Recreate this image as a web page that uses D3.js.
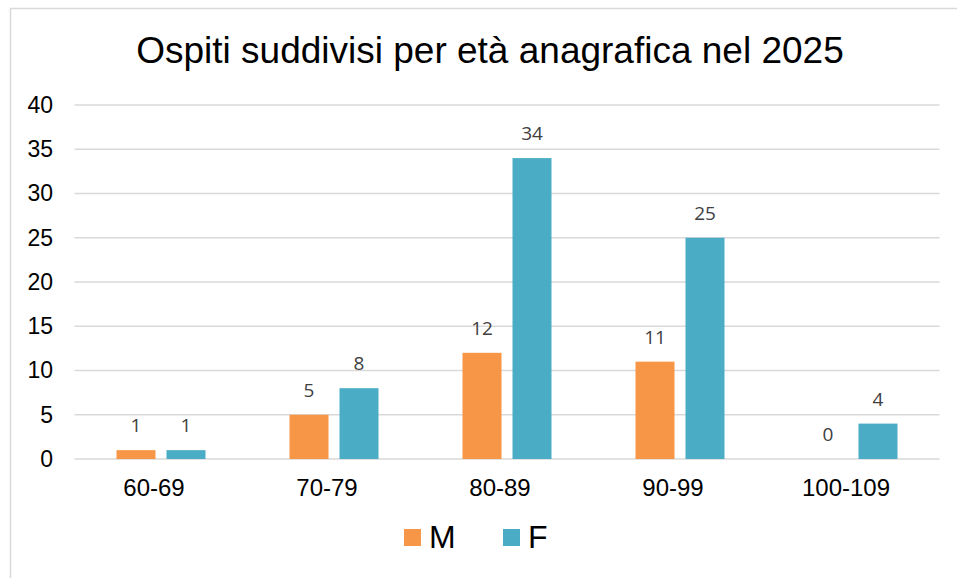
<!DOCTYPE html>
<html>
<head>
<meta charset="utf-8">
<script src="https://cdn.jsdelivr.net/npm/d3@7"></script>
<style>
  body { margin: 0; background: #fff; }
  svg { display: block; }
</style>
</head>
<body>
<div id="chart"></div>
<script>
// data
const categories = ["60-69", "70-79", "80-89", "90-99", "100-109"];
const series = ["M", "F"];
const valuesM = [1, 5, 12, 11, 0];
const valuesF = [1, 8, 34, 25, 4];
const yTicks = [0, 5, 10, 15, 20, 25, 30, 35, 40];
const colors = {M: "#F79646", F: "#4BACC6"};

const width = 957;
const height = 578;

const svg = d3.select("#chart")
  .append("svg")
  .attr("width", width)
  .attr("height", height);

// outer chart border (only top and left show in the frame)
svg.append("rect")
  .attr("x", 10.5)
  .attr("y", 8.5)
  .attr("width", 1000)
  .attr("height", 1000)
  .attr("fill", "none")
  .attr("stroke", "#d9d9d9")
  .attr("stroke-width", 1.5);

svg.append("text")
  .attr("x", 490)
  .attr("y", 63)
  .attr("text-anchor", "middle")
  .style("font-family", "Liberation Sans, Arial, sans-serif")
  .style("font-size", "37px")
  .attr("fill", "#000")
  .text("Ospiti suddivisi per età anagrafica nel 2025");

const x = d3.scaleBand()
  .domain(categories)
  .range([74.5, 939.5]);

const xSub = d3.scaleBand()
  .domain(series)
  .range([0, x.bandwidth()])
  .paddingInner(0.22)
  .paddingOuter(0.84);

const y = d3.scaleLinear()
  .domain([0, 40])
  .range([459, 105]);

// gridlines
svg.append("g")
  .selectAll("line")
  .data(yTicks)
  .join("line")
    .attr("x1", 74.5)
    .attr("x2", 939.5)
    .attr("y1", d => y(d))
    .attr("y2", d => y(d))
    .attr("stroke", "#d9d9d9")
    .attr("stroke-width", 1.5);

// y axis labels
const yAxis = svg.append("g")
  .attr("transform", "translate(70,0)")
  .call(d3.axisLeft(y).tickValues(yTicks).tickSize(0).tickPadding(17));
yAxis.select(".domain").remove();
yAxis.selectAll("text")
  .style("font-family", "Liberation Sans, Arial, sans-serif")
  .style("font-size", "23px")
  .attr("fill", "#000");

// x axis labels
const xAxis = svg.append("g")
  .attr("transform", "translate(-7,459)")
  .call(d3.axisBottom(x).tickSize(0).tickPadding(20));
xAxis.select(".domain").remove();
xAxis.selectAll("text")
  .style("font-family", "Liberation Sans, Arial, sans-serif")
  .style("font-size", "24px")
  .attr("fill", "#000");

const rows = categories.map((c, i) => ({cat: c, M: valuesM[i], F: valuesF[i]}));

const groups = svg.append("g")
  .selectAll("g")
  .data(rows)
  .join("g")
    .attr("transform", d => "translate(" + x(d.cat) + ",0)");

groups.selectAll("rect")
  .data(d => series.map(s => ({key: s, value: d[s]})))
  .join("rect")
    .attr("x", d => xSub(d.key))
    .attr("width", xSub.bandwidth())
    .attr("y", d => y(d.value))
    .attr("height", d => y(0) - y(d.value))
    .attr("fill", d => colors[d.key]);

groups.selectAll("text.lbl")
  .data(d => series.map(s => ({key: s, value: d[s]})))
  .join("text")
    .attr("class", "lbl")
    .attr("x", d => xSub(d.key) + xSub.bandwidth() / 2)
    .attr("y", d => y(d.value) - 18)
    .attr("text-anchor", "middle")
    .style("font-family", "Open Sans, sans-serif")
    .style("font-size", "19px")
    .attr("fill", "#404040")
    .text(d => d.value);

// legend
const legend = svg.append("g")
  .selectAll("g")
  .data(series)
  .join("g")
    .attr("transform", (d, i) => "translate(" + (404 + i * 99) + ",529)");

legend.append("rect")
  .attr("width", 17)
  .attr("height", 17)
  .attr("fill", d => colors[d]);

legend.append("text")
  .attr("x", 25)
  .attr("y", 19)
  .style("font-family", "Liberation Sans, Arial, sans-serif")
  .style("font-size", "32px")
  .attr("fill", "#000")
  .text(d => d);
</script>
</body>
</html>
